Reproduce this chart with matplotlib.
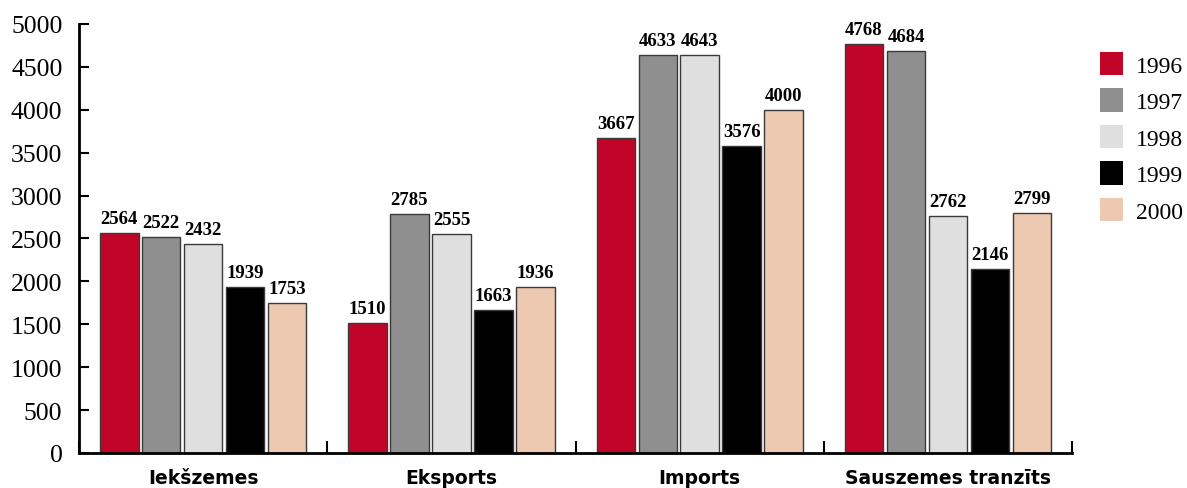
import matplotlib
matplotlib.use("Agg")
import matplotlib.pyplot as plt
import numpy as np
from matplotlib.patches import Patch

categories = ["Iekšzemes", "Eksports", "Imports", "Sauszemes tranzīts"]
years = ["1996", "1997", "1998", "1999", "2000"]
v1996 = [2564, 1510, 3667, 4768]
v1997 = [2522, 2785, 4633, 4684]
v1998 = [2432, 2555, 4643, 2762]
v1999 = [1939, 1663, 3576, 2146]
v2000 = [1753, 1936, 4000, 2799]
series = [v1996, v1997, v1998, v1999, v2000]
colors = ["#C00528", "#8F8F8F", "#DFDFDF", "#000000", "#EEC9B2"]
yticks = [0, 500, 1000, 1500, 2000, 2500, 3000, 3500, 4000, 4500, 5000]

serif = ["Liberation Serif", "DejaVu Serif"]

fig = plt.figure(figsize=(11.87, 4.89), dpi=100)
ax = fig.add_axes([0.0666, 0.0716, 0.8366, 0.8773])

x = np.arange(len(categories))
step = 0.169
width = 0.155
for i, (vals, c) in enumerate(zip(series, colors)):
    pos = x + (i - 2) * step
    bars = ax.bar(pos, vals, width=width, color=c, edgecolor="#3a3a3a",
                  linewidth=1.0, label=years[i], zorder=2)
    for b, v in zip(bars, vals):
        ax.text(b.get_x() + b.get_width() / 2, v + 70, str(v), ha="center",
                va="bottom", fontsize=13.5, fontweight="bold", family=serif)

ax.set_xlim(-0.5, 3.5)
ax.set_ylim(0, 5000)
ax.set_yticks(yticks)
ax.set_yticklabels([str(t) for t in yticks], family=serif, fontsize=18.5)
ax.set_xticks(np.arange(-0.5, 3.6, 1.0))
ax.set_xticklabels([])
for xi, name in zip(x, categories):
    ax.text(xi, -30 / 429, name, transform=ax.get_xaxis_transform(),
            ha="center", va="baseline", fontsize=13.5, fontweight="bold",
            family=["DejaVu Sans"])
ax.tick_params(axis="x", which="major", direction="in", length=9, width=1.5)
ax.tick_params(axis="y", direction="in", length=7, width=1.5, pad=12)
for s in ["top", "right"]:
    ax.spines[s].set_visible(False)
for s in ["left", "bottom"]:
    ax.spines[s].set_linewidth(2)

handles = [Patch(facecolor=c, edgecolor="none") for c in colors]
leg = fig.legend(handles, years, loc="upper left", bbox_to_anchor=(0.9265, 0.892),
                 frameon=False, prop={"family": serif, "size": 17},
                 handlelength=1.0, handleheight=1.15, labelspacing=0.5,
                 handletextpad=0.55, borderpad=0, borderaxespad=0)

fig.savefig("out.png", dpi=100)
